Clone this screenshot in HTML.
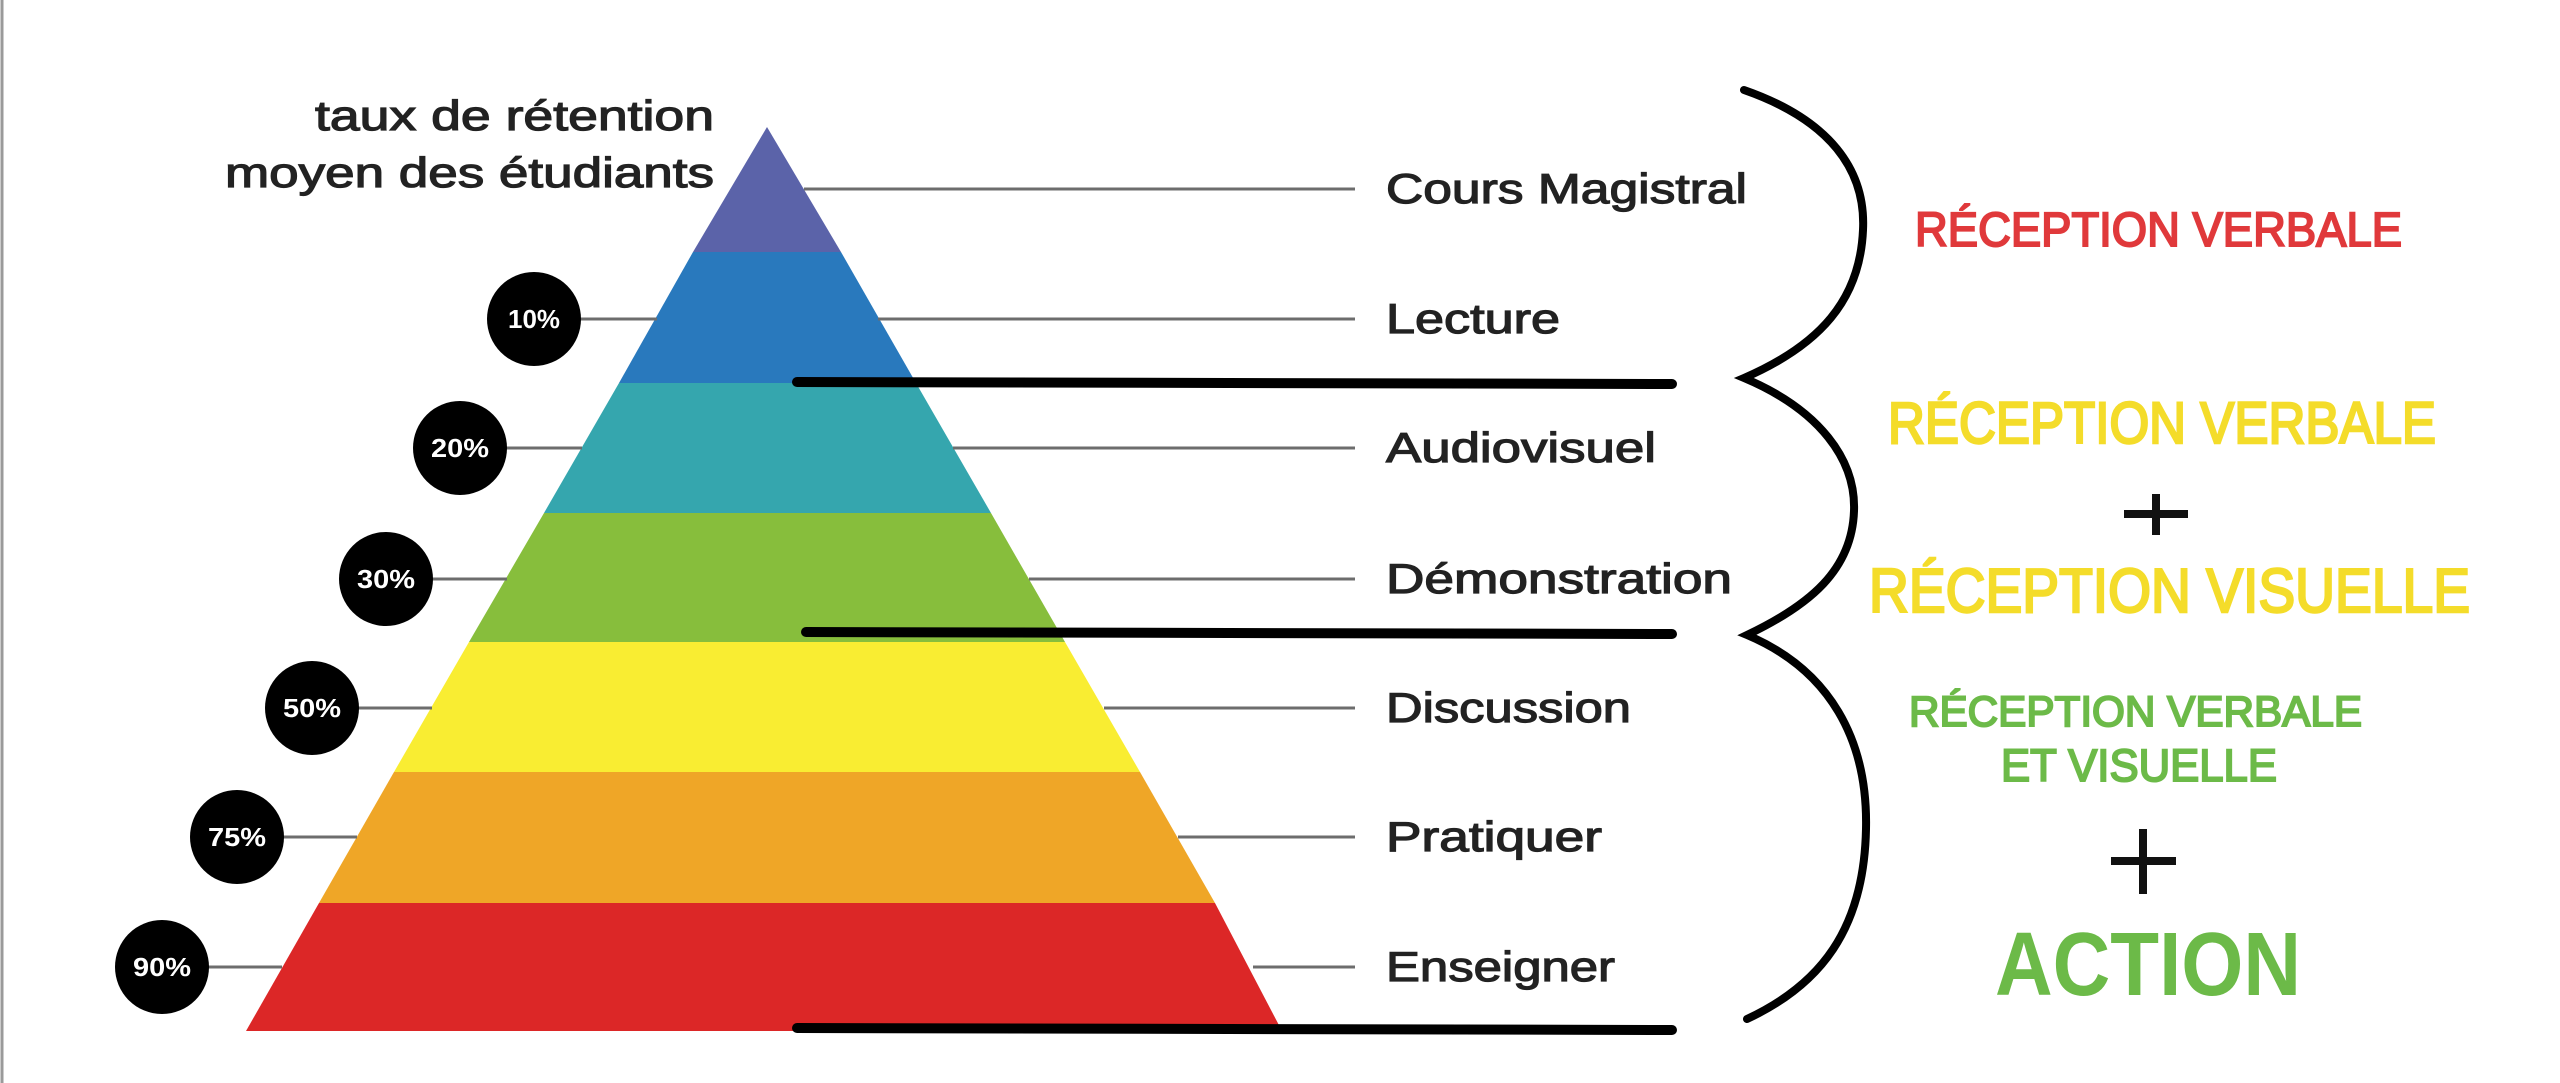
<!DOCTYPE html>
<html><head><meta charset="utf-8"><style>html,body{margin:0;padding:0;background:#fff;}svg{display:block}</style></head>
<body>
<svg width="2560" height="1083" viewBox="0 0 2560 1083" xmlns="http://www.w3.org/2000/svg" font-family="Liberation Sans, DejaVu Sans, sans-serif">
<rect width="2560" height="1083" fill="#fff"/>
<line x1="2" y1="0" x2="2" y2="1083" stroke="#9a9a9a" stroke-width="3"/>
<polygon points="767,127 841,252 693,252" fill="#5b63a9"/>
<polygon points="693,252 841,252 916,383 619,383" fill="#2979bd"/>
<polygon points="619,383 916,383 991,513 544,513" fill="#35a6ae"/>
<polygon points="544,513 991,513 1065,642 469,642" fill="#87be3c"/>
<polygon points="469,642 1065,642 1140,772 394,772" fill="#f9ed32"/>
<polygon points="394,772 1140,772 1215,903 319,903" fill="#efa627"/>
<polygon points="319,903 1215,903 1282,1031 246,1031" fill="#dc2727"/>
<g stroke="#6d6d6d" stroke-width="3">
<line x1="804" y1="189" x2="1355" y2="189"/>
<line x1="878" y1="319" x2="1355" y2="319"/>
<line x1="953" y1="448" x2="1355" y2="448"/>
<line x1="1029" y1="579" x2="1355" y2="579"/>
<line x1="1104" y1="708" x2="1355" y2="708"/>
<line x1="1178" y1="837" x2="1355" y2="837"/>
<line x1="1253" y1="967" x2="1355" y2="967"/>
<line x1="534" y1="319" x2="657" y2="319"/>
<line x1="460" y1="448" x2="582" y2="448"/>
<line x1="386" y1="579" x2="507" y2="579"/>
<line x1="312" y1="708" x2="432" y2="708"/>
<line x1="237" y1="837" x2="357" y2="837"/>
<line x1="162" y1="967" x2="282" y2="967"/>
</g>
<g fill="#000">
<circle cx="534" cy="319" r="47"/><circle cx="460" cy="448" r="47"/><circle cx="386" cy="579" r="47"/>
<circle cx="312" cy="708" r="47"/><circle cx="237" cy="837" r="47"/><circle cx="162" cy="967" r="47"/>
</g>
<g fill="#fff" font-size="26" font-weight="bold" text-anchor="middle">
<text x="534" y="328" textLength="52" lengthAdjust="spacingAndGlyphs">10%</text>
<text x="460" y="457" textLength="58" lengthAdjust="spacingAndGlyphs">20%</text>
<text x="386" y="588" textLength="58" lengthAdjust="spacingAndGlyphs">30%</text>
<text x="312" y="717" textLength="58" lengthAdjust="spacingAndGlyphs">50%</text>
<text x="237" y="846" textLength="58" lengthAdjust="spacingAndGlyphs">75%</text>
<text x="162" y="976" textLength="58" lengthAdjust="spacingAndGlyphs">90%</text>
</g>
<g fill="#222" stroke="#222" stroke-width="1.2" font-size="42">
<text x="315" y="130" textLength="399" lengthAdjust="spacingAndGlyphs">taux de rétention</text>
<text x="225" y="187" textLength="489" lengthAdjust="spacingAndGlyphs">moyen des étudiants</text>
<text x="1386" y="203" textLength="361" lengthAdjust="spacingAndGlyphs">Cours Magistral</text>
<text x="1386" y="333" textLength="174" lengthAdjust="spacingAndGlyphs">Lecture</text>
<text x="1386" y="462" textLength="270" lengthAdjust="spacingAndGlyphs">Audiovisuel</text>
<text x="1386" y="593" textLength="346" lengthAdjust="spacingAndGlyphs">Démonstration</text>
<text x="1386" y="722" textLength="245" lengthAdjust="spacingAndGlyphs">Discussion</text>
<text x="1386" y="851" textLength="216" lengthAdjust="spacingAndGlyphs">Pratiquer</text>
<text x="1386" y="981" textLength="229" lengthAdjust="spacingAndGlyphs">Enseigner</text>
</g>
<g stroke="#000" stroke-width="10" stroke-linecap="round">
<line x1="797" y1="382" x2="1672" y2="384"/>
<line x1="806" y1="632" x2="1672" y2="634"/>
<line x1="797" y1="1028" x2="1672" y2="1030"/>
</g>
<path d="M1744,90 C1830,120 1866,170 1863,230 C1860,300 1820,345 1744,378 C1820,410 1856,460 1854,511 C1852,570 1810,605 1747,635 C1830,670 1868,740 1866,829 C1864,930 1820,985 1747,1019" fill="none" stroke="#000" stroke-width="8" stroke-linecap="round"/>
<text x="1915" y="246" font-size="48" fill="#e0393b" stroke="#e0393b" stroke-width="2" textLength="487" lengthAdjust="spacingAndGlyphs">RÉCEPTION VERBALE</text>
<text x="1888" y="443" font-size="58" fill="#f4dc2a" stroke="#f4dc2a" stroke-width="2.5" textLength="548" lengthAdjust="spacingAndGlyphs">RÉCEPTION VERBALE</text>
<g stroke="#111" stroke-width="8"><line x1="2124" y1="514" x2="2188" y2="514"/><line x1="2156" y1="494" x2="2156" y2="535"/></g>
<text x="1869" y="612" font-size="62" fill="#f4dc2a" stroke="#f4dc2a" stroke-width="2.5" textLength="601" lengthAdjust="spacingAndGlyphs">RÉCEPTION VISUELLE</text>
<text x="1909" y="726" font-size="43" fill="#6cba48" stroke="#6cba48" stroke-width="2" textLength="453" lengthAdjust="spacingAndGlyphs">RÉCEPTION VERBALE</text>
<text x="2001" y="781" font-size="45" fill="#6cba48" stroke="#6cba48" stroke-width="2" textLength="276" lengthAdjust="spacingAndGlyphs">ET VISUELLE</text>
<g stroke="#111" stroke-width="8"><line x1="2111" y1="861" x2="2176" y2="861"/><line x1="2143" y1="829" x2="2143" y2="894"/></g>
<text x="1995" y="995" font-size="90" font-weight="bold" fill="#6cba48" textLength="306" lengthAdjust="spacingAndGlyphs">ACTION</text>
</svg>
</body></html>
